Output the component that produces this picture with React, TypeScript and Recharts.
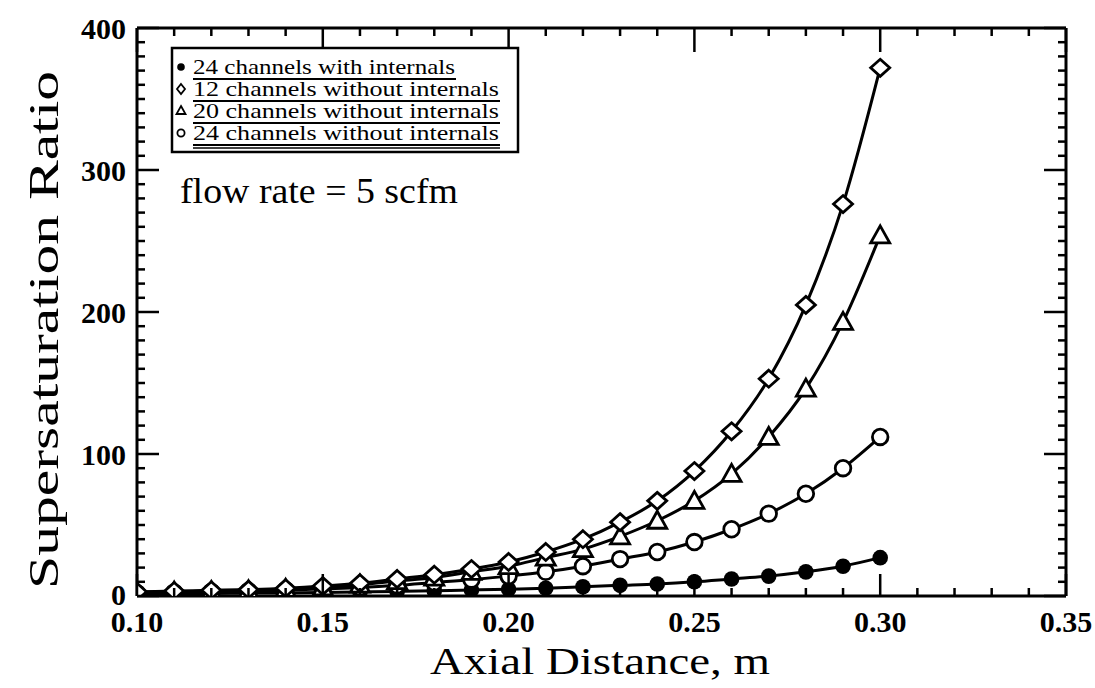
import { LineChart, Line, XAxis, YAxis } from "recharts";

// Axial distance (m) at which each curve was sampled
const axialDistance = [
  0.1, 0.11, 0.12, 0.13, 0.14, 0.15, 0.16, 0.17, 0.18, 0.19, 0.2, 0.21, 0.22,
  0.23, 0.24, 0.25, 0.26, 0.27, 0.28, 0.29, 0.3,
];

// Supersaturation ratio
const ch24WithInternals = [
  1.4, 1.6, 1.8, 2, 2.2, 2.5, 2.8, 3.2, 3.7, 4.2, 4.8, 5.5, 6.5, 7.5, 8.5, 10,
  12, 14, 17, 21, 27,
];
const ch12WithoutInternals = [
  3, 3.5, 4, 4.5, 5.5, 7, 9, 12, 15, 19, 24, 31, 40, 52, 67, 88, 116, 153, 205,
  276, 372,
];
const ch20WithoutInternals = [
  2.5, 3, 3.5, 4, 5, 6, 8, 10.5, 13, 17, 21, 27, 33, 42, 53, 67, 86, 112, 146,
  193, 254,
];
const ch24WithoutInternals = [
  2, 2.4, 2.8, 3.3, 4, 5, 6, 7.5, 9.5, 11.5, 14, 17, 21, 26, 31, 38, 47, 58, 72,
  90, 112,
];

const legendLabels = [
  "24 channels with internals",
  "12 channels without internals",
  "20 channels without internals",
  "24 channels without internals",
];

const xMajorTicks = [0.1, 0.15, 0.2, 0.25, 0.3, 0.35];
const xMinorTicks = [
  0.11, 0.12, 0.13, 0.14, 0.16, 0.17, 0.18, 0.19, 0.21, 0.22, 0.23, 0.24, 0.26,
  0.27, 0.28, 0.29, 0.31, 0.32, 0.33, 0.34,
];
const yMajorTicks = [0, 100, 200, 300, 400];
const yMinorTicks = Array.from({ length: 39 }, (_, i) => (i + 1) * 10).filter(
  (v) => v % 100 !== 0
);
const xAllTicks = [...xMajorTicks, ...xMinorTicks].sort((a, b) => a - b);
const yAllTicks = [...yMajorTicks, ...yMinorTicks].sort((a, b) => a - b);

const data = axialDistance.map((x, i) => ({
  x,
  filled: ch24WithInternals[i],
  diamond: ch12WithoutInternals[i],
  triangle: ch20WithoutInternals[i],
  circle: ch24WithoutInternals[i],
}));

const INK = "#000";
const serif = "'Liberation Serif', 'DejaVu Serif', serif";

const isXMajor = (v: number) => xMajorTicks.some((m) => Math.abs(m - v) < 1e-6);
const isYMajor = (v: number) => yMajorTicks.includes(v);

// marker renderers (positions come from recharts' scales)
const FilledDot = (p: any) => (
  <circle key={p.index} cx={p.cx} cy={p.cy} r={7.8} fill={INK} />
);
const OpenDot = (p: any) => (
  <circle key={p.index} cx={p.cx} cy={p.cy} r={7.8} fill="#fff" stroke={INK} strokeWidth={2.8} />
);
const Diamond = (p: any) => (
  <polygon
    key={p.index}
    points={`${p.cx},${p.cy - 8.5} ${p.cx + 9.5},${p.cy} ${p.cx},${p.cy + 8.5} ${p.cx - 9.5},${p.cy}`}
    fill="#fff"
    stroke={INK}
    strokeWidth={2.8}
  />
);
const Triangle = (p: any) => (
  <polygon
    key={p.index}
    points={`${p.cx},${p.cy - 9.5} ${p.cx + 9.5},${p.cy + 7.5} ${p.cx - 9.5},${p.cy + 7.5}`}
    fill="#fff"
    stroke={INK}
    strokeWidth={2.8}
  />
);

const series = [
  { key: "filled", dot: FilledDot },
  { key: "circle", dot: OpenDot },
  { key: "triangle", dot: Triangle },
  { key: "diamond", dot: Diamond },
];

// Ticks: tickSize/tickMargin are 0 so (x, y) sits on the axis line itself.
// Each tick draws its own inward mark; major ones are longer (and labelled
// on the bottom/left axes).
const MAJOR = 22;
const MINOR = 8;
const labelFont = { fontFamily: serif, fontSize: 30, fontWeight: 700, fill: INK };

const BottomTick = (p: any) => {
  const v = p.payload.value;
  const major = isXMajor(v);
  return (
    <g>
      <line x1={p.x} x2={p.x} y1={p.y} y2={p.y - (major ? MAJOR : MINOR)} stroke={INK} strokeWidth={2.5} />
      {major && (
        <text x={p.x} y={p.y + 15} dy="0.71em" textAnchor="middle" {...labelFont}>
          {v.toFixed(2)}
        </text>
      )}
    </g>
  );
};
const TopTick = (p: any) => {
  const major = isXMajor(p.payload.value);
  return <line x1={p.x} x2={p.x} y1={p.y} y2={p.y + (major ? MAJOR + 2 : MINOR)} stroke={INK} strokeWidth={2.5} />;
};
const LeftTick = (p: any) => {
  const v = p.payload.value;
  const major = isYMajor(v);
  return (
    <g>
      <line x1={p.x} x2={p.x + (major ? MAJOR : MINOR)} y1={p.y} y2={p.y} stroke={INK} strokeWidth={2.5} />
      {major && (
        <text x={p.x - 11} y={p.y - (v === 0 ? 2 : 0)} dy="0.355em" textAnchor="end" {...labelFont}>
          {v}
        </text>
      )}
    </g>
  );
};
const RightTick = (p: any) => {
  const major = isYMajor(p.payload.value);
  return <line x1={p.x} x2={p.x - (major ? MAJOR : MINOR)} y1={p.y} y2={p.y} stroke={INK} strokeWidth={2.5} />;
};

const frameLine = { stroke: INK, strokeWidth: 3 };

export default function App() {
  return (
    <div style={{ position: "absolute", left: 0, top: 0, width: 1095, height: 688, background: "#fff" }}>
      <LineChart
        width={1095}
        height={688}
        data={data}
        margin={{ top: 28, right: 29, bottom: 62, left: 77 }}
      >
        <XAxis
          xAxisId="b"
          dataKey="x"
          type="number"
          domain={[0.1, 0.35]}
          allowDataOverflow
          ticks={xAllTicks}
          interval={0}
          tickLine={false}
          tickSize={0}
          tickMargin={0}
          height={30}
          axisLine={frameLine}
          tick={BottomTick}
        />
        <XAxis
          xAxisId="t"
          orientation="top"
          mirror
          dataKey="x"
          type="number"
          domain={[0.1, 0.35]}
          allowDataOverflow
          ticks={xAllTicks}
          interval={0}
          tickLine={false}
          tickSize={0}
          tickMargin={0}
          axisLine={frameLine}
          tick={TopTick}
        />
        <YAxis
          yAxisId="l"
          type="number"
          domain={[0, 400]}
          allowDataOverflow
          ticks={yAllTicks}
          interval={0}
          width={60}
          tickLine={false}
          tickSize={0}
          tickMargin={0}
          axisLine={frameLine}
          tick={LeftTick}
        />
        <YAxis
          yAxisId="r"
          orientation="right"
          mirror
          type="number"
          domain={[0, 400]}
          allowDataOverflow
          ticks={yAllTicks}
          interval={0}
          tickLine={false}
          tickSize={0}
          tickMargin={0}
          axisLine={frameLine}
          tick={RightTick}
        />

        {/* curves first, markers on top */}
        {series.map((s) => (
          <Line
            key={`line-${s.key}`}
            xAxisId="b"
            yAxisId="l"
            dataKey={s.key}
            type="monotone"
            stroke={INK}
            strokeWidth={3}
            dot={false}
            activeDot={false}
            isAnimationActive={false}
          />
        ))}
        {series.map((s) => (
          <Line
            key={`dots-${s.key}`}
            xAxisId="b"
            yAxisId="l"
            dataKey={s.key}
            type="monotone"
            stroke="none"
            dot={s.dot}
            activeDot={false}
            isAnimationActive={false}
          />
        ))}
      </LineChart>

      {/* legend, annotation, axis titles */}
      <svg width={1095} height={688} style={{ position: "absolute", left: 0, top: 0, pointerEvents: "none" }}>
        <rect x={172} y={48} width={346} height={104} fill="#fff" stroke={INK} strokeWidth={2.5} />
        <circle cx={181} cy={67} r={3.8} fill={INK} />
        <polygon points="181,84 185,89 181,94 177,89" fill="#fff" stroke={INK} strokeWidth={1.8} />
        <polygon points="181,106 185.5,114 176.5,114" fill="#fff" stroke={INK} strokeWidth={1.8} />
        <circle cx={181} cy={133} r={3.6} fill="#fff" stroke={INK} strokeWidth={1.8} />
        {legendLabels.map((t, i) => (
          <g key={t}>
            <text
              x={193}
              y={74 + i * 22}
              fontFamily={serif}
              fontSize={21}
              fill={INK}
              textLength={i === 0 ? 262 : 306}
              lengthAdjust="spacingAndGlyphs"
            >
              {t}
            </text>
            <line x1={193} x2={i === 0 ? 456 : 500} y1={79 + i * 22} y2={79 + i * 22} stroke={INK} strokeWidth={2} />
          </g>
        ))}
        <line x1={193} x2={500} y1={148} y2={148} stroke={INK} strokeWidth={1.5} />

        <text x={180} y={203} fontFamily={serif} fontSize={36} fill={INK} textLength={278} lengthAdjust="spacingAndGlyphs">
          flow rate = 5 scfm
        </text>

        <text x={600} y={674} textAnchor="middle" fontFamily={serif} fontSize={38} fill={INK} textLength={340} lengthAdjust="spacingAndGlyphs">
          Axial Distance, m
        </text>
        <text
          x={0}
          y={0}
          transform="translate(58,330) rotate(-90)"
          textAnchor="middle"
          fontFamily={serif}
          fontSize={42}
          fill={INK}
          textLength={518}
          lengthAdjust="spacingAndGlyphs"
        >
          Supersaturation Ratio
        </text>
      </svg>
    </div>
  );
}
